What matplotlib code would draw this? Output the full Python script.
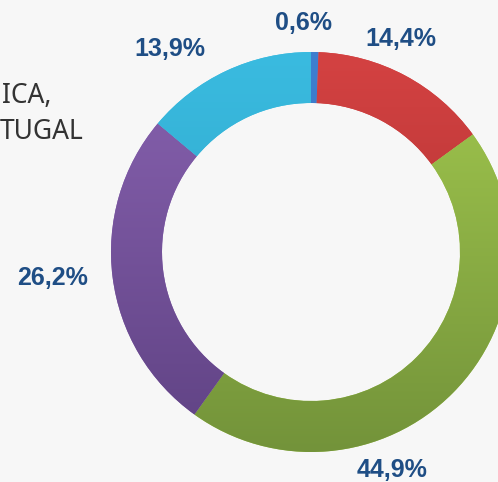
import numpy as np
import matplotlib
matplotlib.use('Agg')
import matplotlib.pyplot as plt
from matplotlib.colors import LinearSegmentedColormap

# data (share in %)
shares = [0.6, 14.4, 44.9, 26.2, 13.9]
top_colors = ['#3f7fd0', '#d44242', '#a2c84e', '#8862b0', '#3abbe0']
bottom_colors = ['#3168b0', '#a02c2c', '#73933a', '#5f4283', '#2a9ec0']
label_pos = [(304, 23), (401, 39), (392, 470), (53, 278), (170, 49)]
label_color = '#1f4e85'

W, H = 498, 482
cx, cy, R, ring = 311, H - 252, 200, 51

fig = plt.figure(figsize=(W / 100, H / 100), dpi=100)
fig.patch.set_facecolor('#f7f7f7')
ax = fig.add_axes([0, 0, 1, 1])
ax.set_facecolor('#f7f7f7')

wedges, _ = ax.pie(shares, colors=top_colors, startangle=90, counterclock=False,
                   radius=R, center=(cx, cy), frame=True,
                   wedgeprops=dict(width=ring, linewidth=0))

# vertical gradient inside every slice
grad = np.linspace(0, 1, 256).reshape(-1, 1)
for w, c0, c1 in zip(wedges, top_colors, bottom_colors):
    cmap = LinearSegmentedColormap.from_list('g', [c1, c0])
    im = ax.imshow(grad, cmap=cmap, origin='lower', aspect='auto',
                   extent=(cx - R, cx + R, cy - R, cy + R), zorder=2)
    im.set_clip_path(w)

for v, (x, y) in zip(shares, label_pos):
    ax.text(x, H - y, f'{v:.1f}%'.replace('.', ','), ha='center', va='center',
            fontsize=18, fontweight='bold', color=label_color,
            family='Liberation Sans', zorder=3)

ax.text(2, H - 96, 'ICA,', ha='left', va='center', fontsize=19,
        color='#333333', family='Noto Sans')
ax.text(0, H - 132, 'TUGAL', ha='left', va='center', fontsize=19,
        color='#333333', family='Noto Sans')

ax.set_xlim(0, W)
ax.set_ylim(0, H)
ax.set_aspect('auto')
ax.axis('off')

fig.savefig('out.png', dpi=100, facecolor=fig.get_facecolor())
